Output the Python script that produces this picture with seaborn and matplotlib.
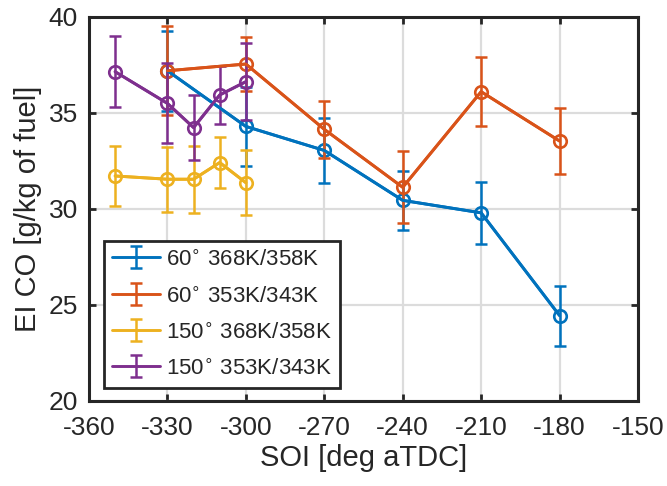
import matplotlib
matplotlib.use("Agg")
import matplotlib.pyplot as plt
import seaborn as sns
import pandas as pd

# SOI sweep and measured EI CO (mean, +/- error) for each configuration
soi_60 = [-330, -300, -270, -240, -210, -180]
soi_150 = [-350, -330, -320, -310, -300]

eico_60_hot = [37.2, 34.3, 33.05, 30.45, 29.8, 24.45]
err_60_hot = [2.07, 2.05, 1.71, 1.55, 1.62, 1.56]

eico_60_cold = [37.2, 37.55, 34.15, 31.13, 36.11, 33.54]
err_60_cold = [2.33, 1.43, 1.5, 1.88, 1.79, 1.7]

eico_150_hot = [31.72, 31.55, 31.55, 32.42, 31.37]
err_150_hot = [1.55, 1.7, 1.75, 1.35, 1.68]

eico_150_cold = [37.15, 35.5, 34.24, 35.94, 36.63]
err_150_cold = [1.85, 2.08, 1.7, 1.5, 2.0]

labels = ["60$^{\\circ}$ 368K/358K", "60$^{\\circ}$ 353K/343K",
          "150$^{\\circ}$ 368K/358K", "150$^{\\circ}$ 353K/343K"]
colors = ["#0072BD", "#D95319", "#EDB120", "#7E2F8E"]

x_ticks = [-360, -330, -300, -270, -240, -210, -180, -150]
y_ticks = [20, 25, 30, 35, 40]

sns.set_theme(style="whitegrid")
plt.rcParams["font.family"] = ["Liberation Sans", "DejaVu Sans"]
plt.rcParams["mathtext.fontset"] = "dejavusans"

fig = plt.figure(figsize=(6.67, 4.86), dpi=100)
ax = fig.add_axes([89 / 667, 1 - 401 / 486, 549 / 667, 384 / 486])

series = [
    (soi_60, eico_60_hot, err_60_hot),
    (soi_60, eico_60_cold, err_60_cold),
    (soi_150, eico_150_hot, err_150_hot),
    (soi_150, eico_150_cold, err_150_cold),
]

handles = []
for (xs, ys, es), lab, c in zip(series, labels, colors):
    h = ax.errorbar(xs, ys, yerr=es, fmt="-", color=c, lw=2.1,
                    elinewidth=1.8, capsize=4, capthick=1.8, label=lab)
    handles.append(h)
    df = pd.DataFrame({"soi": xs, "eico": ys})
    sns.lineplot(data=df, x="soi", y="eico", ax=ax, color=c, lw=2.1,
                 marker="o", markersize=9, markerfacecolor="none",
                 markeredgecolor=c, markeredgewidth=1.9, legend=False)

ax.set_xlim(-360, -150)
ax.set_ylim(20, 40)
ax.set_xticks(x_ticks)
ax.set_yticks(y_ticks)
ax.set_xticklabels([str(t) for t in x_ticks])
ax.set_yticklabels([str(t) for t in y_ticks])

ax.grid(True, color="#dcdcdc", lw=1.6)
for sp in ax.spines.values():
    sp.set_visible(True)
    sp.set_color("#262626")
    sp.set_linewidth(2.2)
ax.tick_params(axis="both", direction="in", length=5, width=2.0,
               colors="#262626", labelsize=19,
               top=True, right=True, bottom=True, left=True)
ax.tick_params(axis="x", pad=11)
ax.tick_params(axis="y", pad=8)

ax.set_xlabel("SOI [deg aTDC]", fontsize=21, color="#262626", labelpad=3)
ax.set_ylabel("EI CO [g/kg of fuel]", fontsize=21, color="#262626", labelpad=5)

leg = ax.legend(handles=handles, labels=labels, loc="lower left",
                bbox_to_anchor=(0.027, 0.034), borderaxespad=0,
                fontsize=16, frameon=True, fancybox=False,
                handlelength=2.2, handleheight=1.0, handletextpad=0.25,
                labelspacing=0.62, borderpad=0.35)
leg.get_frame().set_edgecolor("#262626")
leg.get_frame().set_linewidth(2.0)
leg.get_frame().set_alpha(1.0)

fig.savefig("out.png", dpi=100, facecolor="white")
